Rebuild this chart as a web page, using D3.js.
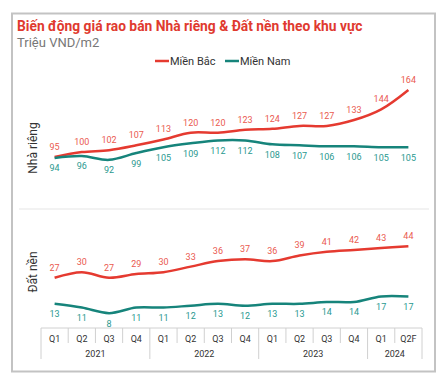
<!DOCTYPE html>
<html><head><meta charset="utf-8">
<script src="https://cdn.jsdelivr.net/npm/d3@7"></script>
<style>body{margin:0;background:#fff;}svg{display:block;font-family:Roboto,"Noto Sans",sans-serif;}</style>
</head><body><svg id="c" width="444" height="385"></svg>
<script>
const quarters = ["Q1","Q2","Q3","Q4","Q1","Q2","Q3","Q4","Q1","Q2","Q3","Q4","Q1","Q2F"];
const years = [{label:"2021",n:4},{label:"2022",n:4},{label:"2023",n:4},{label:"2024",n:2}];
const nhaRiengBac = [95,100,102,107,113,120,120,123,124,127,127,133,144,164];
const nhaRiengNam = [94,96,92,99,105,109,112,112,108,107,106,106,105,105];
const datNenBac = [27,30,27,29,30,33,36,37,36,39,41,42,43,44];
const datNenNam = [13,11,8,11,11,12,13,12,13,13,14,14,17,17];
const seriesNames = ["Miền Bắc","Miền Nam"];
const colors = ["#e53a30","#16847b"];
const labelColors = ["#ea5a50","#2a9990"];

const svg = d3.select("#c");
svg.append("rect").attr("x",12).attr("y",13.5).attr("width",423).attr("height",358)
  .attr("fill","#fff").attr("stroke","#c3c3c3").attr("stroke-width",2);

svg.append("text").attr("x",17).attr("y",31).attr("fill","#e03a2f")
  .attr("font-size",13.8).attr("font-weight","bold")
  .text("Biến động giá rao bán Nhà riêng & Đất nền theo khu vực");
svg.append("text").attr("x",17).attr("y",47).attr("fill","#777")
  .attr("font-size",13).text("Triệu VND/m2");

// legend
const lg = svg.append("g");
[[155,170],[225,240]].forEach((p,i)=>{
  lg.append("line").attr("x1",p[0]).attr("x2",p[0]+14).attr("y1",61).attr("y2",61)
    .attr("stroke",colors[i]).attr("stroke-width",2.5);
  lg.append("text").attr("x",p[1]).attr("y",65).attr("font-size",11).attr("fill","#333").text(seriesNames[i]);
});

const x = d3.scaleBand().domain(d3.range(quarters.length)).range([41,422]);
const cx = i => x(i) + x.bandwidth()/2;

const yTop = d3.scaleLinear().domain([41.4,189.7]).range([209,65]);
const yBot = d3.scaleLinear().domain([0,64]).range([328,209]);

svg.append("line").attr("x1",19).attr("x2",429).attr("y1",209).attr("y2",209)
  .attr("stroke","#e6e6e6").attr("stroke-width",1.2);

function drawPanel(y, bac, nam, title, titleY){
  const line = d3.line().x((d,i)=>cx(i)).y(d=>y(d)).curve(d3.curveCatmullRom.alpha(0.5));
  [bac,nam].forEach((s,k)=>{
    svg.append("path").attr("d",line(s)).attr("fill","none")
      .attr("stroke",colors[k]).attr("stroke-width",2.5);
  });
  svg.append("g").selectAll("text").data(bac).join("text")
    .attr("x",(d,i)=>cx(i)).attr("y",d=>y(d)-7).attr("text-anchor","middle")
    .attr("font-size",9).attr("fill",labelColors[0]).text(d=>d);
  svg.append("g").selectAll("text").data(nam).join("text")
    .attr("x",(d,i)=>cx(i)).attr("y",d=>y(d)+13.5).attr("text-anchor","middle")
    .attr("font-size",9).attr("fill",labelColors[1]).text(d=>d);
  svg.append("text").attr("transform",`translate(37,${titleY}) rotate(-90)`)
    .attr("text-anchor","middle").attr("font-size",12).attr("fill","#333").text(title);
}
drawPanel(yTop, nhaRiengBac, nhaRiengNam, "Nhà riêng", 148);
drawPanel(yBot, datNenBac, datNenNam, "Đất nền", 272);

// category axis
const ax = svg.append("g");
ax.append("line").attr("x1",41).attr("x2",422).attr("y1",328).attr("y2",328).attr("stroke","#d0d0d0");
const yearBounds = [0];
years.forEach(yr=>yearBounds.push(yearBounds[yearBounds.length-1]+yr.n));
for(let i=0;i<=quarters.length;i++){
  const xx = i<quarters.length ? x(i) : 422;
  const isYear = yearBounds.includes(i);
  ax.append("line").attr("x1",xx).attr("x2",xx).attr("y1",328).attr("y2",isYear?359:343)
    .attr("stroke","#d0d0d0");
}
ax.selectAll("text.q").data(quarters).join("text").attr("class","q")
  .attr("x",(d,i)=>cx(i)).attr("y",341.5).attr("text-anchor","middle")
  .attr("font-size",9).attr("fill","#333").text(d=>d);
years.forEach((yr,j)=>{
  const a = x(yearBounds[j]);
  const b = yearBounds[j+1]<quarters.length ? x(yearBounds[j+1]) : 422;
  ax.append("text").attr("x",(a+b)/2).attr("y",356.5).attr("text-anchor","middle")
    .attr("font-size",9).attr("fill","#333").text(yr.label);
});
</script></body></html>
